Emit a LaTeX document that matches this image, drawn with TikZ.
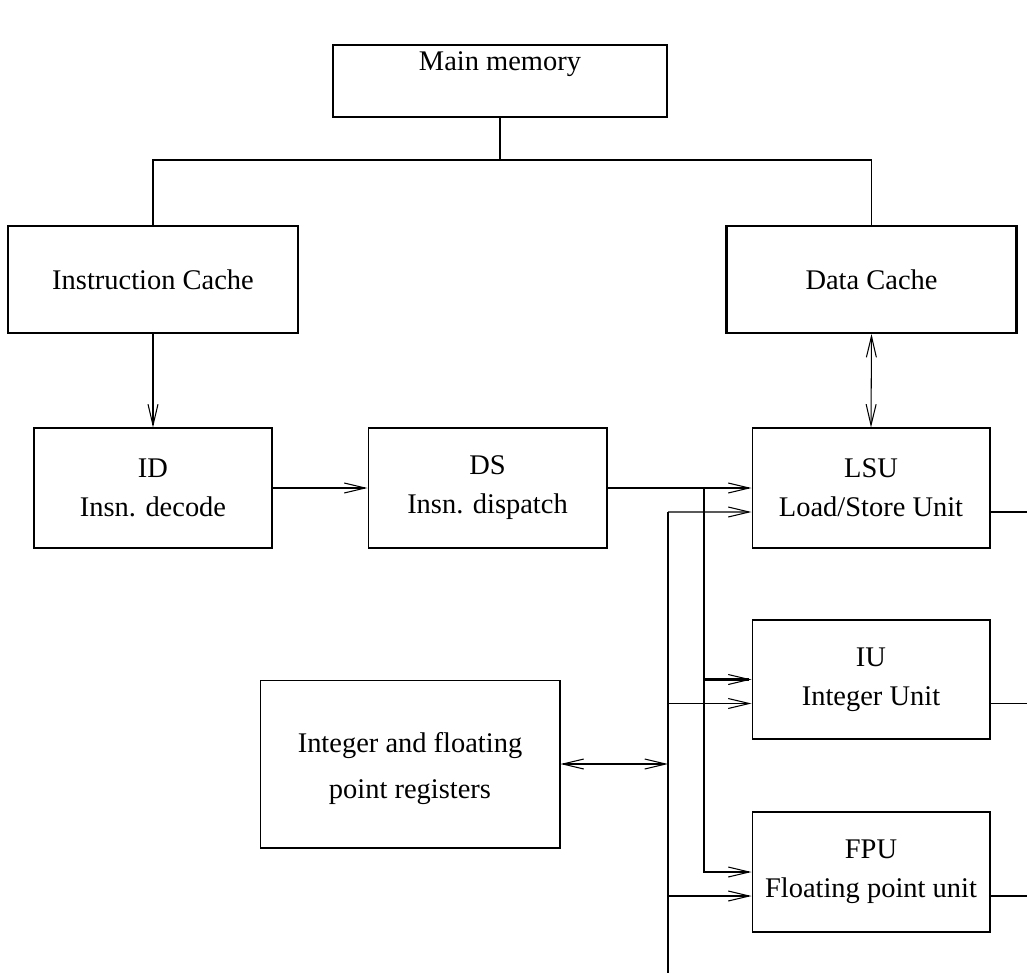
\documentclass[tikz,border=0pt]{standalone}
\usepackage{fontspec}
\setmainfont{Liberation Serif}
\usetikzlibrary{arrows.meta,positioning}

\begin{document}
\begin{tikzpicture}[
  x=0.02cm,y=-0.02cm,
  txt/.style={font=\fontsize{16.2}{22.1}\selectfont,align=center},
  box/.style={txt,draw=black,line width=0.6pt,inner sep=0pt},
  bigbox/.style={txt,draw=black,line width=1.2pt,inner sep=0pt},
  thin/.style={draw=black,line width=0.6pt},
  thick/.style={draw=black,line width=1.2pt},
  tip/.style={-{Straight Barb[length=0.42cm,width=0.2cm,line width=0.6pt]}},
  tips/.style={{Straight Barb[length=0.42cm,width=0.2cm,line width=0.6pt]}-{Straight Barb[length=0.42cm,width=0.2cm,line width=0.6pt]}},
]

\useasboundingbox (0,0) rectangle (1027,974);

\node[bigbox,minimum width=6.68cm,minimum height=1.44cm] (mm) at (500,81) {};
\node[txt,anchor=base] (mmtext) at (500,70) {Main memory};
\node[bigbox,minimum width=5.8cm,minimum height=2.14cm] (ic) at (153,279.5) {Instruction Cache};
\node[bigbox,minimum width=5.8cm,minimum height=2.14cm] (dc) at (871.5,279.5) {Data Cache};

\node[box,minimum width=4.76cm,minimum height=2.4cm] (id) at (153,488) {ID\\Insn. decode};
\node[box,minimum width=4.78cm,minimum height=2.4cm] (ds) at (487.5,488) {DS\\Insn. dispatch};
\node[box,minimum width=4.76cm,minimum height=2.4cm] (lsu) at (871,488) {LSU\\Load/Store Unit};
\node[box,minimum width=4.76cm,minimum height=2.38cm] (iu) at (871,679.5) {IU\\Integer Unit};
\node[box,minimum width=4.76cm,minimum height=2.4cm] (fpu) at (871,872) {FPU\\Floating point unit};
\node[box,minimum width=6cm,minimum height=3.36cm] (reg) at (410,764)
  {\rule{0pt}{17pt}Integer and floating\\[4.2pt]point registers};

\coordinate (split) at (500,160);
\coordinate (fork) at (704,488);
\coordinate (bustop) at (668,512);
\coordinate (busbot) at (668,973);
\coordinate (edge) at (1027,0);

\draw[thin] (mm.south) -- (split);
\draw[thin] (ic.north) |- (split) -| (dc.north);
\draw[thick,tip] (ic.south) -- (id.north);
\draw[thin,tips] (dc.south) -- (lsu.north);

\draw[thick,tip] (id.east) -- (ds.west);
\draw[thick,tip] (ds.east) -- (lsu.west);
\draw[thick,tip] (fork) |- (iu.west);
\draw[thick,tip] (fork) |- (fpu.west);

\draw[thin] (bustop) -- (busbot);
\draw[thin,tip] (bustop) -- ([yshift=-0.48cm]lsu.west);
\draw[thin,tip] ([yshift=-0.48cm]iu.west -| bustop) -- ([yshift=-0.48cm]iu.west);
\draw[thin,tip] ([yshift=-0.48cm]fpu.west -| bustop) -- ([yshift=-0.48cm]fpu.west);
\draw[thin,tips] (reg.east) -- (reg.east -| bustop);

\draw[thin] ([yshift=-0.48cm]lsu.east) -- ([yshift=-0.48cm]lsu.east -| edge);
\draw[thin] ([yshift=-0.48cm]iu.east) -- ([yshift=-0.48cm]iu.east -| edge);
\draw[thin] ([yshift=-0.48cm]fpu.east) -- ([yshift=-0.48cm]fpu.east -| edge);

\end{tikzpicture}
\end{document}
